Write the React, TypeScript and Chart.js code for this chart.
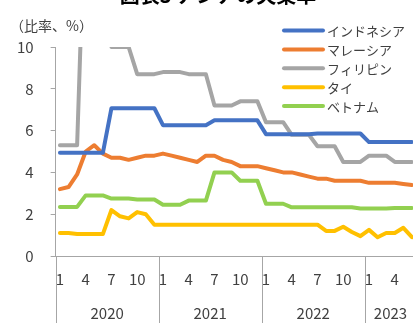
import React, { useEffect, useRef } from 'react';
import { Chart, registerables } from 'chart.js';

Chart.register(...registerables);

const years = [2020, 2021, 2022, 2023];
const monthsPerYear = [12, 12, 12, 6];
const shownMonths = [1, 4, 7, 10];

const seriesNames = ['インドネシア', 'マレーシア', 'フィリピン', 'タイ', 'ベトナム'];
const seriesColors = ['#4472C4', '#ED7D31', '#A5A5A5', '#FFC000', '#92D050'];

const indonesia = [
  4.94, 4.94, 4.94, 4.94, 4.94, 4.94, 7.07, 7.07, 7.07, 7.07, 7.07, 7.07,
  6.26, 6.26, 6.26, 6.26, 6.26, 6.26, 6.49, 6.49, 6.49, 6.49, 6.49, 6.49,
  5.83, 5.83, 5.83, 5.83, 5.83, 5.83, 5.86, 5.86, 5.86, 5.86, 5.86, 5.86,
  5.45, 5.45, 5.45, 5.45, 5.45, 5.45,
];
const malaysia = [
  3.2, 3.3, 3.9, 5.0, 5.3, 4.9, 4.7, 4.7, 4.6, 4.7, 4.8, 4.8,
  4.9, 4.8, 4.7, 4.6, 4.5, 4.8, 4.8, 4.6, 4.5, 4.3, 4.3, 4.3,
  4.2, 4.1, 4.0, 4.0, 3.9, 3.8, 3.7, 3.7, 3.6, 3.6, 3.6, 3.6,
  3.5, 3.5, 3.5, 3.5, 3.45, 3.4,
];
const philippines = [
  5.3, 5.3, 5.3, 17.7, 17.7, 17.7, 10.0, 10.0, 10.0, 8.7, 8.7, 8.7,
  8.8, 8.8, 8.8, 8.7, 8.7, 8.7, 7.2, 7.2, 7.2, 7.4, 7.4, 7.4,
  6.4, 6.4, 6.4, 5.8, 5.8, 5.8, 5.25, 5.25, 5.25, 4.5, 4.5, 4.5,
  4.8, 4.8, 4.8, 4.5, 4.5, 4.5,
];
const thailand = [
  1.1, 1.1, 1.05, 1.05, 1.05, 1.05, 2.2, 1.9, 1.8, 2.1, 2.0, 1.5,
  1.5, 1.5, 1.5, 1.5, 1.5, 1.5, 1.5, 1.5, 1.5, 1.5, 1.5, 1.5,
  1.5, 1.5, 1.5, 1.5, 1.5, 1.5, 1.5, 1.2, 1.2, 1.4, 1.15, 0.95,
  1.25, 0.9, 1.1, 1.1, 1.35, 0.9,
];
const vietnam = [
  2.35, 2.35, 2.35, 2.9, 2.9, 2.9, 2.75, 2.75, 2.75, 2.7, 2.7, 2.7,
  2.45, 2.45, 2.45, 2.65, 2.65, 2.65, 4.0, 4.0, 4.0, 3.6, 3.6, 3.6,
  2.5, 2.5, 2.5, 2.33, 2.33, 2.33, 2.33, 2.33, 2.33, 2.33, 2.33, 2.27,
  2.27, 2.27, 2.27, 2.3, 2.3, 2.3,
];
const seriesValues = [indonesia, malaysia, philippines, thailand, vietnam];

const yTicks = [0, 2, 4, 6, 8, 10];
const titleText = '図表3 アジアの失業率';
const unitText = '（比率、%）';

const FONT = '"Noto Sans CJK JP", "Noto Sans", sans-serif';
const TEXT_COLOR = '#404040';
const AXIS_COLOR = '#a6a6a6';

const categories: string[] = [];
const monthOf: number[] = [];
years.forEach((y, i) => {
  for (let m = 1; m <= monthsPerYear[i]; m++) {
    categories.push(`${y}-${m}`);
    monthOf.push(m);
  }
});

const overlay = {
  id: 'overlay',
  afterDraw(chart: any) {
    const ctx = chart.ctx as CanvasRenderingContext2D;
    const xs = chart.scales.x;
    const area = chart.chartArea;
    const h = chart.height;
    ctx.save();
    // title (cut at top)
    ctx.font = `bold 20px ${FONT}`;
    ctx.fillStyle = '#000';
    ctx.textAlign = 'center';
    ctx.textBaseline = 'alphabetic';
    ctx.fillText(titleText, 218, 3);
    // unit label
    ctx.font = `14px ${FONT}`;
    ctx.fillStyle = TEXT_COLOR;
    ctx.textAlign = 'left';
    ctx.textBaseline = 'middle';
    ctx.fillText(unitText, 10, 26);
    // year separators & labels
    const w = xs.getPixelForValue(1) - xs.getPixelForValue(0);
    let start = 0;
    ctx.strokeStyle = AXIS_COLOR;
    ctx.lineWidth = 1;
    ctx.font = `15px ${FONT}`;
    ctx.textAlign = 'center';
    years.forEach((yr, i) => {
      const left = xs.getPixelForValue(start) - w / 2;
      const right = Math.min(left + monthsPerYear[i] * w, area.right);
      const lx = Math.round(left) + 0.5;
      ctx.beginPath();
      ctx.moveTo(lx, area.bottom);
      ctx.lineTo(lx, h);
      ctx.stroke();
      ctx.fillText(String(yr), (left + right) / 2, 313);
      start += monthsPerYear[i];
    });
    // legend
    const lx0 = 284, lx1 = 323, ty0 = 30.5, dy = 18.9;
    ctx.font = `13px ${FONT}`;
    ctx.textAlign = 'left';
    ctx.textBaseline = 'middle';
    ctx.lineCap = 'round';
    seriesNames.forEach((name, i) => {
      const yy = ty0 + i * dy;
      ctx.strokeStyle = seriesColors[i];
      ctx.lineWidth = 4;
      ctx.beginPath();
      ctx.moveTo(lx0, yy);
      ctx.lineTo(lx1, yy);
      ctx.stroke();
      ctx.fillStyle = TEXT_COLOR;
      ctx.fillText(name, 327, yy + 0.5);
    });
    ctx.restore();
  },
};

export default function App() {
  const ref = useRef<HTMLCanvasElement>(null);
  useEffect(() => {
    if (!ref.current) return;
    const chart = new Chart(ref.current, {
      type: 'line',
      data: {
        labels: categories,
        datasets: seriesNames.map((name, i) => ({
          label: name,
          data: seriesValues[i],
          borderColor: seriesColors[i],
          backgroundColor: seriesColors[i],
          borderWidth: 4,
          pointRadius: 0,
          tension: 0,
          borderJoinStyle: 'round' as const,
          borderCapStyle: 'round' as const,
        })),
      },
      options: {
        responsive: false,
        animation: false,
        devicePixelRatio: 1,
        layout: { padding: { left: 0, right: 6, top: 47, bottom: 21 } },
        plugins: { legend: { display: false }, tooltip: { enabled: false }, title: { display: false } },
        scales: {
          x: {
            type: 'category',
            offset: true,
            grid: { display: true, drawOnChartArea: false, drawTicks: false },
            border: { display: true, color: AXIS_COLOR, width: 1 },
            ticks: {
              autoSkip: false,
              maxRotation: 0,
              padding: 14,
              color: TEXT_COLOR,
              font: { size: 15, family: FONT },
              callback: (_v: any, idx: number) =>
                shownMonths.includes(monthOf[idx]) ? String(monthOf[idx]) : '',
            },
          },
          y: {
            min: 0,
            max: 10,
            afterBuildTicks: (scale: any) => {
              scale.ticks = yTicks.map((v) => ({ value: v }));
            },
            grid: { display: true, drawOnChartArea: false, drawTicks: true, tickLength: 5, color: AXIS_COLOR },
            border: { display: true, color: AXIS_COLOR, width: 1 },
            ticks: {
              padding: 17,
              color: TEXT_COLOR,
              font: { size: 15, family: FONT },
            },
          },
        },
      },
      plugins: [overlay],
    });
    return () => chart.destroy();
  }, []);
  return (
    <div style={{ position: 'fixed', left: 0, top: 0, width: 413, height: 323, overflow: 'hidden', background: '#fff' }}>
      <canvas ref={ref} width={426} height={323} style={{ display: 'block' }} />
    </div>
  );
}
